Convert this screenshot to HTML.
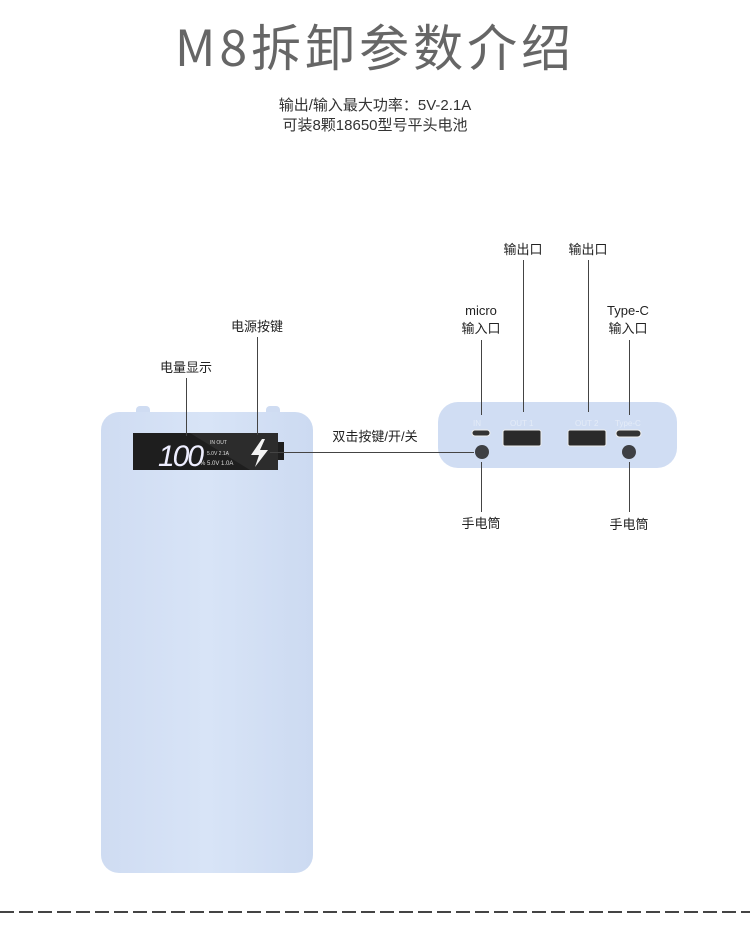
<!DOCTYPE html>
<html><head><meta charset="utf-8"><style>
body{margin:0;width:750px;height:927px;background:#fff;position:relative;overflow:hidden;font-family:"Liberation Sans","Noto Sans CJK SC",sans-serif;color:#333}
.t{position:absolute;white-space:nowrap;font-size:13px;text-align:center;line-height:18px;color:#222}
.l{position:absolute;background:#444}
</style></head><body>
<div class="t" style="left:0;width:750px;top:14px;font-size:50px;line-height:62px;color:#666;letter-spacing:4px;font-family:'Noto Sans CJK SC',sans-serif;font-weight:400">M8拆卸参数介绍</div>
<div class="t" style="left:0;width:750px;top:96px;font-size:15px;line-height:20px;color:#333">输出/输入最大功率：5V-2.1A<br>可装8颗18650型号平头电池</div>

<svg style="position:absolute;left:0;top:0" width="750" height="927">
<defs><linearGradient id="g" x1="0" x2="1"><stop offset="0" stop-color="#cfdcf2"/><stop offset=".5" stop-color="#d8e4f7"/><stop offset="1" stop-color="#ccdaf1"/></linearGradient></defs>
<rect x="136" y="406" width="14" height="10" rx="4" fill="#cfdcf2"/>
<rect x="266" y="406" width="14" height="10" rx="4" fill="#cfdcf2"/>
<rect x="101" y="412" width="212" height="461" rx="18" fill="url(#g)"/>
<polygon points="133,433 278,433 278,470 133,470" fill="#1e1e1e"/>
<polygon points="190,433 278,433 278,470 250,470" fill="#2c2c2c"/>
<rect x="278" y="442" width="6" height="18" fill="#1e1e1e"/>
<text x="158" y="466" font-size="30" fill="#eef" font-family="Liberation Sans" font-style="italic" letter-spacing="-2">100</text>
<text x="210" y="444" font-size="5" fill="#ddd">IN  OUT</text>
<text x="207" y="455" font-size="5" fill="#ddd">5.0V 2.1A</text>
<text x="200" y="465" font-size="6" fill="#ddd">% 5.0V 1.0A</text>
<polygon points="262,439 251,455 259,455 255,467 268,450 260,450 265,439" fill="#f4f4f4"/>
<rect x="438" y="402" width="239" height="66" rx="20" fill="#d0ddf3"/>
<text x="473" y="426" font-size="8" fill="#e4ecf8">IN</text>
<text x="510" y="426" font-size="8" fill="#e4ecf8">OUT 1</text>
<text x="575" y="426" font-size="8" fill="#e4ecf8">OUT 2</text>
<text x="615" y="426" font-size="8" fill="#e4ecf8">Type-C</text>
<rect x="472" y="430" width="18" height="6" rx="3" fill="#333" stroke="#eee"/>
<rect x="503" y="430" width="38" height="16" rx="2" fill="#2a2a2a" stroke="#eee"/>
<rect x="568" y="430" width="38" height="16" rx="2" fill="#2a2a2a" stroke="#eee"/>
<rect x="616" y="430" width="25" height="7" rx="3.5" fill="#333" stroke="#eee"/>
<circle cx="482" cy="452" r="7" fill="#3e4044"/>
<circle cx="629" cy="452" r="7" fill="#3e4044"/>
<line x1="0" y1="912" x2="750" y2="912" stroke="#444" stroke-width="2" stroke-dasharray="14,5"/>
</svg>

<div class="l" style="left:186px;top:378px;width:1px;height:58px"></div>
<div class="l" style="left:257px;top:337px;width:1px;height:98px"></div>
<div class="l" style="left:270px;top:452px;width:204px;height:1px"></div>
<div class="l" style="left:481px;top:340px;width:1px;height:75px"></div>
<div class="l" style="left:523px;top:260px;width:1px;height:152px"></div>
<div class="l" style="left:588px;top:260px;width:1px;height:152px"></div>
<div class="l" style="left:629px;top:340px;width:1px;height:75px"></div>
<div class="l" style="left:481px;top:462px;width:1px;height:50px"></div>
<div class="l" style="left:629px;top:462px;width:1px;height:50px"></div>

<div class="t" style="left:146px;width:80px;top:359px">电量显示</div>
<div class="t" style="left:217px;width:80px;top:318px">电源按键</div>
<div class="t" style="left:315px;width:120px;top:428px">双击按键/开/关</div>
<div class="t" style="left:441px;width:80px;top:302px">micro<br>输入口</div>
<div class="t" style="left:483px;width:80px;top:241px">输出口</div>
<div class="t" style="left:548px;width:80px;top:241px">输出口</div>
<div class="t" style="left:588px;width:80px;top:302px">Type-C<br>输入口</div>
<div class="t" style="left:441px;width:80px;top:515px">手电筒</div>
<div class="t" style="left:589px;width:80px;top:516px">手电筒</div>
</body></html>
